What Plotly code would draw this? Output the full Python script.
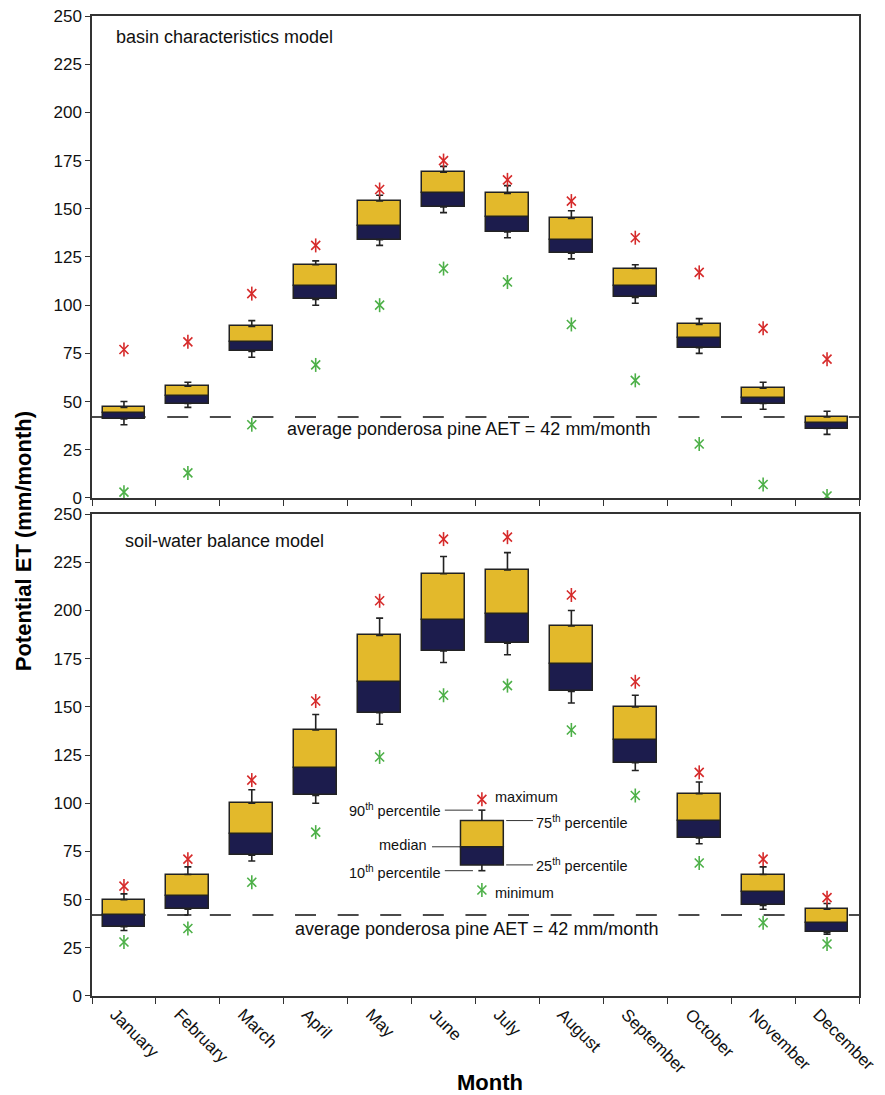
import plotly.graph_objects as go

months = ["January", "February", "March", "April", "May", "June", "July",
          "August", "September", "October", "November", "December"]

# basin characteristics model (mm/month)
bc_min = [3, 13, 38, 69, 100, 119, 112, 90, 61, 28, 7, 1]
bc_p10 = [38, 47, 73, 100, 131, 148, 135, 124, 101, 75, 46, 33]
bc_q25 = [41, 49, 76, 103, 134, 151, 138, 127, 104, 78, 49, 36]
bc_med = [44, 53, 81, 110, 141, 158, 146, 134, 110, 83, 52, 39]
bc_q75 = [47, 58, 89, 121, 154, 169, 158, 145, 119, 90, 57, 42]
bc_p90 = [50, 60, 92, 123, 157, 172, 162, 149, 121, 93, 60, 45]
bc_max = [77, 81, 106, 131, 160, 175, 165, 154, 135, 117, 88, 72]

# soil-water balance model (mm/month)
sw_min = [28, 35, 59, 85, 124, 156, 161, 138, 104, 69, 38, 27]
sw_p10 = [34, 42, 70, 100, 141, 173, 177, 152, 117, 79, 45, 32]
sw_q25 = [36, 45, 73, 104, 147, 179, 183, 158, 121, 82, 47, 33]
sw_med = [42, 52, 84, 118, 163, 195, 198, 172, 133, 91, 54, 38]
sw_q75 = [50, 63, 100, 138, 187, 219, 221, 192, 150, 105, 63, 45]
sw_p90 = [53, 67, 107, 146, 196, 228, 230, 200, 156, 111, 67, 48]
sw_max = [57, 71, 112, 153, 205, 237, 238, 208, 163, 116, 71, 51]

# explanation key sample box: min, p10, q25, median, q75, p90, max
key_stats = [55, 65, 68, 77.4, 91, 96.4, 102]

aet = 42
aet_label = "average ponderosa pine AET = 42 mm/month"

GOLD = "#E3B92B"
NAVY = "#1C1C4D"
RED = "#D62B2B"
GREEN = "#4DB048"
LINE = "#222222"
FONT = "Liberation Sans, Arial, sans-serif"
BW = 0.67

fig = go.Figure()


def star(xs, ys, col, xa, ya):
    for sym, sz in (("x-thin-open", 9), ("line-ns-open", 10)):
        fig.add_trace(go.Scatter(x=xs, y=ys, mode="markers",
                                 marker=dict(symbol=sym, size=sz, color=col,
                                             line=dict(color=col, width=1.6)),
                                 xaxis=xa, yaxis=ya, showlegend=False, hoverinfo="skip"))


def add_panel(xa, ya, mn, p10, q25, med, q75, p90, mx):
    fig.add_trace(go.Bar(x=months, y=[m - a for m, a in zip(med, q25)], base=q25,
                         width=BW, marker=dict(color=NAVY, line=dict(color=LINE, width=1.5)),
                         xaxis=xa, yaxis=ya, showlegend=False, hoverinfo="skip"))
    fig.add_trace(go.Bar(x=months, y=[b - m for b, m in zip(q75, med)], base=med,
                         width=BW, marker=dict(color=GOLD, line=dict(color=LINE, width=1.5)),
                         xaxis=xa, yaxis=ya, showlegend=False, hoverinfo="skip"))
    fig.add_trace(go.Scatter(x=months, y=q75, mode="markers",
                             marker=dict(size=1, color="rgba(0,0,0,0)"),
                             error_y=dict(type="data", symmetric=False,
                                          array=[p - q for p, q in zip(p90, q75)],
                                          arrayminus=[0] * 12, color=LINE,
                                          thickness=1.6, width=3.5),
                             xaxis=xa, yaxis=ya, showlegend=False, hoverinfo="skip"))
    fig.add_trace(go.Scatter(x=months, y=q25, mode="markers",
                             marker=dict(size=1, color="rgba(0,0,0,0)"),
                             error_y=dict(type="data", symmetric=False,
                                          array=[0] * 12,
                                          arrayminus=[q - p for q, p in zip(q25, p10)],
                                          color=LINE, thickness=1.6, width=3.5),
                             xaxis=xa, yaxis=ya, showlegend=False, hoverinfo="skip"))
    star(months, mx, RED, xa, ya)
    star(months, mn, GREEN, xa, ya)


add_panel("x", "y", bc_min, bc_p10, bc_q25, bc_med, bc_q75, bc_p90, bc_max)
add_panel("x2", "y2", sw_min, sw_p10, sw_q25, sw_med, sw_q75, sw_p90, sw_max)

# key markers (max / min) on a numeric overlay axis
kx = 5.6
star([kx], [key_stats[6]], RED, "x3", "y2")
star([kx], [key_stats[0]], GREEN, "x3", "y2")

shapes = []
# AET dashed reference lines (behind boxes)
for xr, yr in (("x", "y"), ("x2", "y2")):
    shapes.append(dict(type="line", xref=xr, yref=yr, x0=-0.656, x1=11.5, y0=aet, y1=aet,
                       line=dict(color="#111111", width=1.6, dash="21px,21.6px"),
                       layer="below"))

# key sample box
kmin, kp10, kq25, kmed, kq75, kp90, kmax = key_stats
hw = BW / 2
cap = 0.055
shapes += [
    dict(type="rect", xref="x2", yref="y2", x0=kx - hw, x1=kx + hw, y0=kq25, y1=kmed,
         fillcolor=NAVY, line=dict(color=LINE, width=1.5)),
    dict(type="rect", xref="x2", yref="y2", x0=kx - hw, x1=kx + hw, y0=kmed, y1=kq75,
         fillcolor=GOLD, line=dict(color=LINE, width=1.5)),
    dict(type="line", xref="x2", yref="y2", x0=kx, x1=kx, y0=kq75, y1=kp90,
         line=dict(color=LINE, width=1.6)),
    dict(type="line", xref="x2", yref="y2", x0=kx - cap, x1=kx + cap, y0=kp90, y1=kp90,
         line=dict(color=LINE, width=1.6)),
    dict(type="line", xref="x2", yref="y2", x0=kx, x1=kx, y0=kp10, y1=kq25,
         line=dict(color=LINE, width=1.6)),
    dict(type="line", xref="x2", yref="y2", x0=kx - cap, x1=kx + cap, y0=kp10, y1=kp10,
         line=dict(color=LINE, width=1.6)),
]
# leader lines
for x0, x1, yv in ((5.02, 5.46, kp90), (5.98, 6.40, kq75), (4.82, 5.26, kmed),
                   (5.98, 6.40, kq25), (5.02, 5.46, kp10)):
    shapes.append(dict(type="line", xref="x2", yref="y2", x0=x0, x1=x1, y0=yv, y1=yv,
                       line=dict(color="#333333", width=1)))

annotations = []
kfont = dict(family=FONT, size=14.5, color="#111111")
for txt, xx, yy, anc in (("90<sup>th</sup> percentile", 4.99, kp90, "right"),
                         ("75<sup>th</sup> percentile", 6.42, kq75 - 1, "left"),
                         ("median", 4.78, kmed + 0.8, "right"),
                         ("25<sup>th</sup> percentile", 6.42, kq25, "left"),
                         ("10<sup>th</sup> percentile", 4.99, kp10 - 0.5, "right"),
                         ("maximum", 5.78, kmax + 1, "left"),
                         ("minimum", 5.78, kmin - 1.5, "left")):
    annotations.append(dict(text=txt, x=xx, y=yy, xref="x2", yref="y2", xanchor=anc,
                            yanchor="middle", showarrow=False, font=kfont))

tfont = dict(family=FONT, size=18, color="#111111")
annotations += [
    dict(text="basin characteristics model", x=-0.16, y=239, xref="x", yref="y",
         xanchor="left", yanchor="middle", showarrow=False, font=tfont),
    dict(text="soil-water balance model", x=-0.02, y=236, xref="x2", yref="y2",
         xanchor="left", yanchor="middle", showarrow=False, font=tfont),
    dict(text=aet_label, x=2.52, y=35.8, xref="x", yref="y",
         xanchor="left", yanchor="middle", showarrow=False, font=tfont),
    dict(text=aet_label, x=2.65, y=35, xref="x2", yref="y2",
         xanchor="left", yanchor="middle", showarrow=False, font=tfont),
    dict(text="<b>Potential ET (mm/month)</b>", x=-0.09, y=0.464, xref="paper", yref="paper",
         textangle=-90, xanchor="center", yanchor="middle", showarrow=False,
         font=dict(family=FONT, size=22, color="#000000")),
    dict(text="<b>Month</b>", x=0.519, y=-0.088, xref="paper", yref="paper",
         xanchor="center", yanchor="middle", showarrow=False,
         font=dict(family=FONT, size=22, color="#000000")),
]

axis_common = dict(showline=True, linecolor="#333333", linewidth=1.5, mirror=True,
                   showgrid=False, zeroline=False, ticks="outside", ticklen=5,
                   tickcolor="#333333", tickwidth=1, automargin=False,
                   tickfont=dict(family=FONT, size=17, color="#111111"))
xcommon = dict(axis_common, type="category", categoryorder="array", categoryarray=months,
               tickson="boundaries", range=[-0.5, 11.5], ticklen=6)

fig.update_layout(
    width=885, height=1095,
    margin=dict(l=92, r=26, t=16, b=99, autoexpand=False),
    paper_bgcolor="white", plot_bgcolor="white",
    barmode="overlay", bargap=0,
    xaxis=dict(xcommon, anchor="y", domain=[0, 1], showticklabels=False),
    yaxis=dict(axis_common, anchor="x", domain=[0.5082, 1], range=[0, 250], dtick=25),
    xaxis2=dict(xcommon, anchor="y2", domain=[0, 1], tickangle=45, ticklabelshift=-9,
                tickfont=dict(family=FONT, size=17, color="#111111")),
    yaxis2=dict(axis_common, anchor="x2", domain=[0, 0.4918], range=[0, 250], dtick=25),
    xaxis3=dict(overlaying="x2", anchor="y2", range=[-0.5, 11.5], visible=False),
    shapes=shapes,
    annotations=annotations,
    font=dict(family=FONT),
)

fig.write_html("out.html")
